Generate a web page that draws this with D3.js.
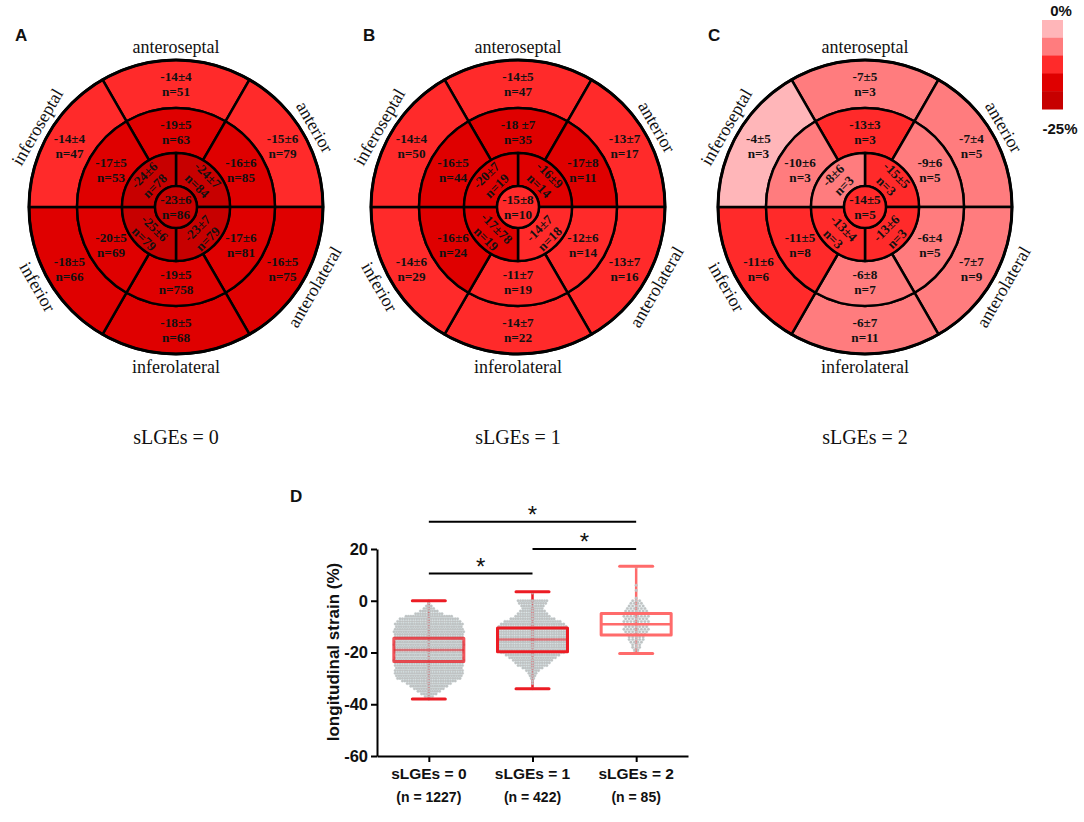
<!DOCTYPE html>
<html>
<head>
<meta charset="utf-8">
<script src="https://cdn.jsdelivr.net/npm/d3@7"></script>
<style>
  body { margin: 0; background: #fff; }
</style>
</head>
<body>
<div id="chart"></div>
<script>
// ---------- data ----------
const panelLetters = ["A", "B", "C"];
const groupTitles = ["sLGEs = 0", "sLGEs = 1", "sLGEs = 2"];
const wallNames = ["anteroseptal", "anterior", "anterolateral", "inferolateral", "inferior", "inferoseptal"];

// basal and mid rings: clockwise from anteroseptal
const basalLabels = [
  ["-14±4", "-15±6", "-16±5", "-18±5", "-18±5", "-14±4"],
  ["-14±5", "-13±7", "-13±7", "-14±7", "-14±6", "-14±4"],
  ["-7±5", "-7±4", "-7±7", "-6±7", "-11±6", "-4±5"]
];
const basalN = [
  [51, 79, 75, 68, 66, 47],
  [47, 17, 16, 22, 29, 50],
  [3, 5, 9, 11, 6, 3]
];
const midLabels = [
  ["-19±5", "-16±6", "-17±6", "-19±5", "-20±5", "-17±5"],
  ["-18 ±7", "-17±8", "-12±6", "-11±7", "-16±6", "-16±5"],
  ["-13±3", "-9±6", "-6±4", "-6±8", "-11±5", "-10±6"]
];
const midN = [
  [63, 85, 81, 758, 69, 53],
  [35, 11, 14, 19, 24, 44],
  [3, 5, 5, 7, 8, 3]
];
// apical ring: clockwise from the top-right quadrant
const apicalLabels = [
  ["-24±7", "-23±7", "-25±6", "-24±6"],
  ["-16±9", "-14±7", "-17±78", "-20±7"],
  ["-15±5", "-13±6", "-13±4", "-8±6"]
];
const apicalN = [
  [84, 79, 79, 78],
  [14, 18, 19, 19],
  [3, 3, 3, 3]
];
const apexLabels = ["-23±6", "-15±8", "-14±5"];
const apexN = [86, 10, 5];

const legendTop = "0%";
const legendBottom = "-25%";

// panel D
const boxGroups = ["sLGEs = 0", "sLGEs = 1", "sLGEs = 2"];
const boxCounts = ["(n = 1227)", "(n = 422)", "(n = 85)"];
const whiskerHigh = [0, 3.5, 13.3];
const upperQuartile = [-14.5, -10.5, -4.9];
const medians = [-19, -15, -9.1];
const lowerQuartile = [-23.5, -19.7, -13.2];
const whiskerLow = [-38, -34, -20.4];
const yTicks = [-60, -40, -20, 0, 20];

// dots per integer strain row, read downwards from the top value
const swarmTop = [0, 3, 13];
const swarmCounts0 = [1, 1, 3, 5, 8, 12, 20, 25, 27,
  29, 28, 29, 30, 29, 29, 28, 29, 30, 29, 29, 29, 28, 29, 30, 29, 29, 28, 29, 29, 28,
  27, 23, 19, 16, 13, 10, 7, 4, 1];
const swarmCounts1 = [1, 0, 0, 13, 12, 10, 9, 11, 13, 15, 19, 24, 27,
  29, 29, 29, 29, 29, 29, 29, 29, 29, 28, 27, 23, 20, 17, 15, 13, 9, 6, 4, 3, 2, 1, 1, 0, 1];
const swarmCounts2 = [1, 0, 0, 0, 0, 0, 0, 1, 0, 1, 0, 0, 1,
  3, 4, 5, 6, 7, 8, 8, 7, 8, 8, 7, 8, 7, 6, 5, 5, 4, 3, 3, 2, 2];

// significance brackets: [from group, to group, height in %]
const sigBrackets = [[0, 2, 30.5], [1, 2, 20], [0, 1, 10.5]];

// ---------- drawing ----------
const W = 1084, H = 822;
const serif = "'Liberation Serif', 'Times New Roman', serif";
const sans = "'Liberation Sans', Arial, sans-serif";
const deg = Math.PI / 180;

const svg = d3.select("#chart").append("svg")
  .attr("width", W).attr("height", H)
  .style("background", "#fff");

const strainColors = ["#c70000", "#df0000", "#ff2a2a", "#ff7c7e", "#ffb6b9"];
const color = d3.scaleThreshold()
  .domain([-20.5, -15.5, -10.5, -4.5])
  .range(strainColors);

const centers = [176, 518, 865];
const cy = 207;
const rApex = 21, rApical = 54, rMid = 99, rBasal = 147;

const arc = d3.arc();

function ringSegments(labels, ns, r0, r1, span, offset, textR) {
  return labels.map((lab, i) => {
    const a0 = (i * span + offset) * deg, a1 = ((i + 1) * span + offset) * deg;
    return { lab, n: ns[i], r0, r1, a0, a1, textR };
  });
}

panelLetters.forEach((letter, p) => {
  const cx = centers[p];
  const g = svg.append("g").attr("transform", `translate(${cx},${cy})`);

  const segs = [
    ...ringSegments(basalLabels[p], basalN[p], rMid, rBasal, 60, -30, 123),
    ...ringSegments(midLabels[p], midN[p], rApical, rMid, 60, -30, 75),
    ...ringSegments(apicalLabels[p], apicalN[p], rApex, rApical, 90, 0, 37.5),
    { lab: apexLabels[p], n: apexN[p], r0: 0, r1: rApex, a0: 0, a1: 2 * Math.PI, textR: 0 }
  ];

  g.selectAll("path.seg")
    .data(segs)
    .join("path")
      .attr("class", "seg")
      .attr("d", d => arc({ innerRadius: d.r0, outerRadius: d.r1, startAngle: d.a0, endAngle: d.a1 }))
      .attr("fill", d => color(parseFloat(d.lab)))
      .attr("stroke", "#000")
      .attr("stroke-width", 2.5)
      .attr("stroke-linejoin", "round");

  g.append("circle").attr("r", rBasal).attr("fill", "none")
    .attr("stroke", "#000").attr("stroke-width", 3);

  const labels = g.selectAll("g.lab")
    .data(segs)
    .join("g")
      .attr("class", "lab")
      .attr("transform", d => {
        const a = (d.a0 + d.a1) / 2;
        const x = Math.sin(a) * d.textR, y = -Math.cos(a) * d.textR;
        let rot = 0;
        if (d.r0 === rApex) {
          const ad = a / deg;
          rot = ad > 90 && ad < 270 ? ad - 180 : ad;
        }
        return `translate(${x},${y}) rotate(${rot})`;
      });
  const t = labels.append("text")
    .attr("text-anchor", "middle")
    .attr("font-family", serif)
    .attr("font-weight", "bold")
    .attr("font-size", 13.2)
    .attr("fill", "#111");
  t.append("tspan").attr("x", 0).attr("y", -3).text(d => d.lab);
  t.append("tspan").attr("x", 0).attr("y", 12).text(d => `n=${d.n}`);

  // wall names around the circle
  g.selectAll("text.wall")
    .data(wallNames)
    .join("text")
      .attr("class", "wall")
      .attr("text-anchor", "middle")
      .attr("dy", "0.33em")
      .attr("font-family", serif)
      .attr("font-size", 18)
      .attr("fill", "#111")
      .attr("transform", (d, i) => {
        const ad = i * 60;
        const x = Math.sin(ad * deg) * 160, y = -Math.cos(ad * deg) * 160;
        const rot = ad > 90 && ad < 270 ? ad - 180 : ad;
        return `translate(${x},${y}) rotate(${rot})`;
      })
      .text(d => d);

  svg.append("text")
    .attr("x", [15, 363, 708][p]).attr("y", 41)
    .attr("font-family", sans).attr("font-weight", "bold").attr("font-size", 17)
    .attr("fill", "#111")
    .text(letter);

  svg.append("text")
    .attr("x", cx).attr("y", 444)
    .attr("text-anchor", "middle")
    .attr("font-family", serif).attr("font-size", 20)
    .attr("fill", "#111")
    .text(groupTitles[p]);
});

// legend
const legY = d3.scaleBand().domain(d3.range(5)).range([20, 109]);
const leg = svg.append("g");
leg.selectAll("rect")
  .data(strainColors.slice().reverse())
  .join("rect")
    .attr("x", 1042).attr("width", 21)
    .attr("y", (d, i) => legY(i)).attr("height", legY.bandwidth() + 0.5)
    .attr("fill", d => d);
leg.append("text").attr("x", 1061).attr("y", 16).attr("text-anchor", "middle")
  .attr("font-family", sans).attr("font-weight", "bold").attr("font-size", 15)
  .attr("fill", "#111").text(legendTop);
leg.append("text").attr("x", 1060).attr("y", 134).attr("text-anchor", "middle")
  .attr("font-family", sans).attr("font-weight", "bold").attr("font-size", 15)
  .attr("fill", "#111").text(legendBottom);

// ---------- panel D ----------
const yS = d3.scaleLinear().domain([-60, 20]).range([756, 549]);
const xS = d3.scalePoint().domain(boxGroups).range([377, 688]).padding(0.5);
const boxColors = ["#ec1c24", "#ec1c24", "#ff6b6b"];
const dotStep = [2.4, 2.4, 3.5];
const swarmCounts = [swarmCounts0, swarmCounts1, swarmCounts2];

svg.append("text").attr("x", 290).attr("y", 502)
  .attr("font-family", sans).attr("font-weight", "bold").attr("font-size", 17)
  .attr("fill", "#111").text("D");

const gy = svg.append("g").attr("transform", "translate(377,0)")
  .call(d3.axisLeft(yS).tickValues(yTicks).tickFormat(d => String(d))
    .tickSize(6).tickSizeOuter(0).tickPadding(3));
gy.selectAll("path, line").attr("stroke", "#000").attr("stroke-width", 2);
gy.selectAll("text").attr("font-family", sans).attr("font-weight", "bold")
  .attr("font-size", 16.5).attr("fill", "#111");

const gx = svg.append("g").attr("transform", "translate(0,756)")
  .call(d3.axisBottom(xS).tickSize(6).tickSizeOuter(0).tickFormat(""));
gx.selectAll("path, line").attr("stroke", "#000").attr("stroke-width", 2);

boxGroups.forEach((grp, i) => {
  const x = xS(grp);
  const c = boxColors[i];
  const g = svg.append("g");

  // whisker line
  g.append("line").attr("x1", x).attr("x2", x)
    .attr("y1", yS(whiskerHigh[i])).attr("y2", yS(whiskerLow[i]))
    .attr("stroke", c).attr("stroke-width", 2.5);

  // swarm dots
  const dots = [];
  swarmCounts[i].forEach((cnt, k) => {
    const v = swarmTop[i] - k;
    for (let j = 0; j < cnt; j++) dots.push([x + (j - (cnt - 1) / 2) * dotStep[i], yS(v)]);
  });
  g.selectAll("circle").data(dots).join("circle")
    .attr("cx", d => d[0]).attr("cy", d => d[1]).attr("r", 1.3)
    .attr("fill", "#c2c2c2").attr("stroke", "#b3c8cb").attr("stroke-width", 0.3);

  // box
  g.append("rect")
    .attr("x", x - 35).attr("width", 70)
    .attr("y", yS(upperQuartile[i])).attr("height", yS(lowerQuartile[i]) - yS(upperQuartile[i]))
    .attr("fill", "none").attr("stroke", c).attr("stroke-width", 3)
    .attr("stroke-linejoin", "round")
    .attr("stroke-opacity", i === 0 ? 0.75 : 1);
  g.append("line").attr("x1", x - 35).attr("x2", x + 35)
    .attr("y1", yS(medians[i])).attr("y2", yS(medians[i]))
    .attr("stroke", c).attr("stroke-width", 2.5).attr("stroke-opacity", i === 2 ? 1 : 0.5);
  [whiskerHigh[i], whiskerLow[i]].forEach(v => {
    g.append("line").attr("x1", x - 16.5).attr("x2", x + 16.5)
      .attr("y1", yS(v)).attr("y2", yS(v))
      .attr("stroke", c).attr("stroke-width", 3).attr("stroke-linecap", "round");
  });

  svg.append("text").attr("x", x).attr("y", 779).attr("text-anchor", "middle")
    .attr("font-family", sans).attr("font-weight", "bold").attr("font-size", 15.5)
    .attr("fill", "#111").text(grp);
  svg.append("text").attr("x", x).attr("y", 802).attr("text-anchor", "middle")
    .attr("font-family", sans).attr("font-weight", "bold").attr("font-size", 14)
    .attr("fill", "#111").text(boxCounts[i]);
});

sigBrackets.forEach(([a, b, v]) => {
  const x1 = xS(boxGroups[a]), x2 = xS(boxGroups[b]);
  svg.append("line").attr("x1", x1).attr("x2", x2)
    .attr("y1", yS(v)).attr("y2", yS(v))
    .attr("stroke", "#000").attr("stroke-width", 2);
  svg.append("text").attr("x", (x1 + x2) / 2).attr("y", yS(v) + 1)
    .attr("text-anchor", "middle")
    .attr("font-family", sans).attr("font-size", 24).attr("fill", "#111")
    .text("*");
});

svg.append("text")
  .attr("transform", `translate(339,652) rotate(-90)`)
  .attr("text-anchor", "middle")
  .attr("font-family", sans).attr("font-weight", "bold").attr("font-size", 17)
  .attr("fill", "#111")
  .text("longitudinal strain (%)");
</script>
</body>
</html>
